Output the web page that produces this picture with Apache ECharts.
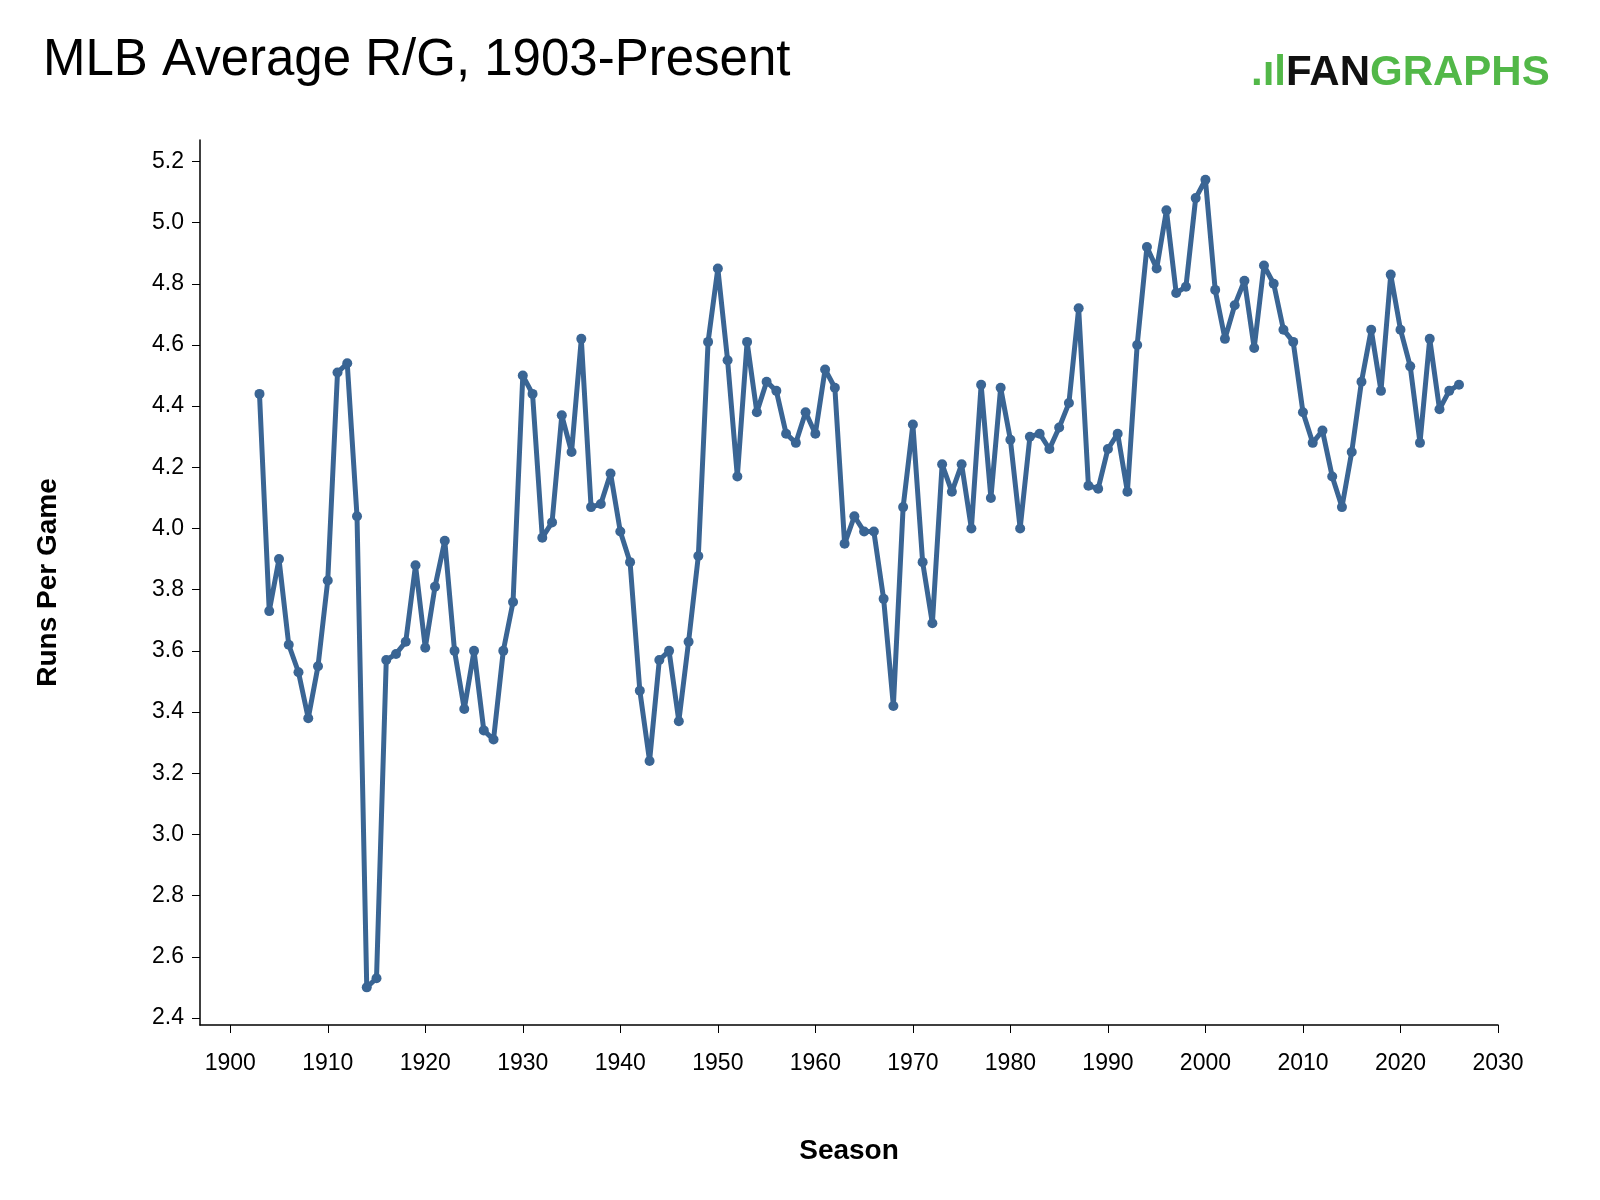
<!DOCTYPE html>
<html>
<head>
<meta charset="utf-8">
<script src="https://cdn.jsdelivr.net/npm/echarts@6/dist/echarts.min.js"></script>
<style>html,body{margin:0;padding:0;background:#fff}#chart{width:1600px;height:1200px}</style>
</head>
<body>
<div id="chart"></div>
<script>
var firstSeason = 1903;
var runsPerGame = [
  4.44, 3.73, 3.90, 3.62, 3.53, 3.38, 3.55, 3.83, 4.51, 4.54,
  4.04, 2.50, 2.53, 3.57, 3.59, 3.63, 3.88, 3.61, 3.81, 3.96,
  3.60, 3.41, 3.60, 3.34, 3.31, 3.60, 3.76, 4.50, 4.44, 3.97,
  4.02, 4.37, 4.25, 4.62, 4.07, 4.08, 4.18, 3.99, 3.89, 3.47,
  3.24, 3.57, 3.60, 3.37, 3.63, 3.91, 4.61, 4.85, 4.55, 4.17,
  4.61, 4.38, 4.48, 4.45, 4.31, 4.28, 4.38, 4.31, 4.52, 4.46,
  3.95, 4.04, 3.99, 3.99, 3.77, 3.42, 4.07, 4.34, 3.89, 3.69,
  4.21, 4.12, 4.21, 4.00, 4.47, 4.10, 4.46, 4.29, 4.00, 4.30,
  4.31, 4.26, 4.33, 4.41, 4.72, 4.14, 4.13, 4.26, 4.31, 4.12,
  4.60, 4.92, 4.85, 5.04, 4.77, 4.79, 5.08, 5.14, 4.78, 4.62,
  4.73, 4.81, 4.59, 4.86, 4.80, 4.65, 4.61, 4.38, 4.28, 4.32,
  4.17, 4.07, 4.25, 4.48, 4.65, 4.45, 4.83, 4.65, 4.53, 4.28,
  4.62, 4.39, 4.45, 4.47
];
var xTicks = [1900, 1910, 1920, 1930, 1940, 1950, 1960, 1970, 1980, 1990, 2000, 2010, 2020, 2030];
var yTicks = [2.4, 2.6, 2.8, 3.0, 3.2, 3.4, 3.6, 3.8, 4.0, 4.2, 4.4, 4.6, 4.8, 5.0, 5.2];

var points = runsPerGame.map(function (v, i) { return [firstSeason + i, v]; });
var font = 'Liberation Sans, Arial, sans-serif';

var myChart = echarts.init(document.getElementById('chart'));
myChart.setOption({
  animation: false,
  backgroundColor: '#fff',
  title: {
    text: 'MLB Average R/G, 1903-Present',
    left: 38, top: 30,
    textStyle: { fontFamily: font, fontSize: 51, fontWeight: 'normal', color: '#000' }
  },
  graphic: [{
    type: 'text', left: 1251, top: 52,
    style: {
      rich: {
        g: { fill: '#52b848', fontSize: 42, fontWeight: 'bold', fontFamily: font },
        k: { fill: '#111', fontSize: 42, fontWeight: 'bold', fontFamily: font }
      },
      text: '{g|.ıl}{k|FAN}{g|GRAPHS}'
    }
  }],
  grid: { left: 200, right: 102, top: 140, bottom: 175 },
  xAxis: {
    type: 'value', min: 1896.9, max: 2030,
    name: 'Season', nameLocation: 'middle', nameGap: 112,
    nameTextStyle: { fontFamily: font, fontSize: 28, fontWeight: 'bold', color: '#000' },
    splitLine: { show: false },
    axisLine: { lineStyle: { color: '#000', width: 1.5 } },
    axisTick: { customValues: xTicks, length: 8, lineStyle: { color: '#000' } },
    axisLabel: {
      customValues: xTicks, fontFamily: font, fontSize: 23, color: '#000', margin: 27,
      formatter: function (v) { return String(v); }
    }
  },
  yAxis: {
    type: 'value', min: 2.377, max: 5.27,
    name: 'Runs Per Game', nameLocation: 'middle', nameGap: 138,
    nameTextStyle: { fontFamily: font, fontSize: 28, fontWeight: 'bold', color: '#000' },
    splitLine: { show: false },
    axisLine: { show: true, lineStyle: { color: '#000', width: 1.5 } },
    axisTick: { show: true, customValues: yTicks, length: 8, lineStyle: { color: '#000' } },
    axisLabel: {
      customValues: yTicks, fontFamily: font, fontSize: 23, color: '#000', margin: 16,
      formatter: function (v) { return v.toFixed(1); }
    }
  },
  series: [{
    type: 'line',
    data: points,
    symbol: 'circle', symbolSize: 10,
    lineStyle: { color: '#3a6594', width: 5 },
    itemStyle: { color: '#3a6594' }
  }]
});

window.onresize = function () { myChart.resize(); };
</script>
</body>
</html>
